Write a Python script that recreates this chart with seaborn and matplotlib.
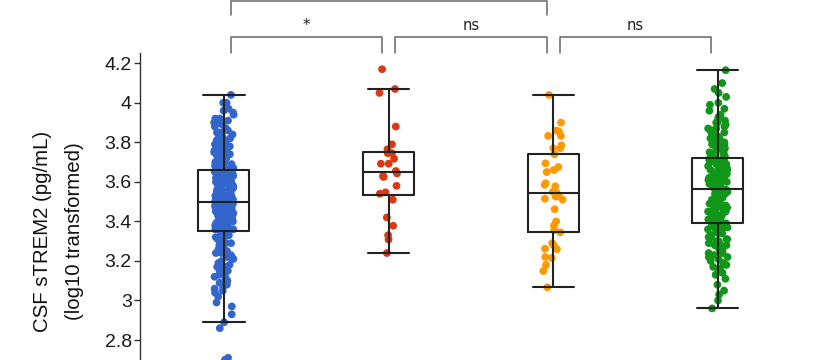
import pandas as pd
import numpy as np
import matplotlib
matplotlib.use('Agg')
import matplotlib.pyplot as plt
import matplotlib.ticker as mticker
import seaborn as sns

groups = ['G1', 'G2', 'G3', 'G4']
colors = ['#3366CC', '#DC3912', '#FF9900', '#109618']

g1_vals = [2.70, 2.71, 2.86, 2.89, 2.93, 2.97, 2.99,
           3.02, 3.04, 3.05, 3.06, 3.07, 3.08, 3.09, 3.10,
           3.11, 3.12, 3.12, 3.13, 3.14, 3.15, 3.15, 3.16, 3.17, 3.17, 3.18, 3.19, 3.19, 3.20,
           3.21, 3.21, 3.22, 3.22, 3.23, 3.24, 3.24, 3.25, 3.25, 3.26, 3.26, 3.27, 3.27, 3.28,
           3.28, 3.28, 3.29, 3.29, 3.30, 3.30,
           3.31, 3.31, 3.31, 3.32, 3.32, 3.32, 3.33, 3.33, 3.33, 3.34, 3.34, 3.34, 3.35, 3.35,
           3.35, 3.35,
           3.36, 3.36, 3.36, 3.36, 3.37, 3.37, 3.37, 3.37, 3.38, 3.38, 3.38, 3.38, 3.38,
           3.39, 3.39, 3.39, 3.39, 3.40, 3.40, 3.40, 3.40, 3.40, 3.41, 3.41, 3.41, 3.41,
           3.42, 3.42, 3.42, 3.42, 3.42, 3.43, 3.43, 3.43, 3.43, 3.44, 3.44, 3.44, 3.44, 3.44,
           3.45, 3.45, 3.45, 3.45, 3.46, 3.46, 3.46, 3.46, 3.46, 3.47, 3.47, 3.47, 3.47,
           3.48, 3.48, 3.48, 3.48, 3.48, 3.49, 3.49, 3.49, 3.49, 3.50, 3.50, 3.50,
           3.51, 3.51, 3.51, 3.51, 3.52, 3.52, 3.52, 3.52, 3.53, 3.53, 3.53, 3.53,
           3.54, 3.54, 3.54, 3.54, 3.55, 3.55, 3.55, 3.55, 3.56, 3.56, 3.56, 3.56,
           3.57, 3.57, 3.57, 3.57, 3.58, 3.58, 3.58, 3.58, 3.59, 3.59, 3.59, 3.59,
           3.60, 3.60, 3.60, 3.60, 3.60, 3.61, 3.61, 3.61, 3.61, 3.62, 3.62, 3.62, 3.62,
           3.63, 3.63, 3.63, 3.63, 3.64, 3.64, 3.64, 3.65, 3.65, 3.65, 3.66, 3.66, 3.66,
           3.67, 3.67, 3.67,
           3.68, 3.68, 3.68, 3.69, 3.69, 3.69, 3.70, 3.70, 3.70, 3.71, 3.71, 3.71,
           3.72, 3.72, 3.72, 3.73, 3.73, 3.73, 3.74, 3.74, 3.74, 3.75, 3.75, 3.75,
           3.76, 3.76, 3.77, 3.77, 3.78, 3.78, 3.78, 3.79, 3.79, 3.80, 3.80,
           3.81, 3.81, 3.82, 3.82, 3.83, 3.83, 3.84, 3.85, 3.85, 3.86, 3.87, 3.87, 3.88,
           3.89, 3.90, 3.90,
           3.91, 3.92, 3.92, 3.94, 3.95, 3.96, 3.97, 4.00, 4.00, 4.04]

g2_vals = [4.17, 4.07, 4.05, 3.88, 3.79, 3.765, 3.745, 3.745, 3.717, 3.692, 3.692,
           3.655, 3.643, 3.63, 3.625, 3.58, 3.547, 3.54, 3.51, 3.42, 3.378, 3.33,
           3.309, 3.24]

g3_vals = [4.04, 3.90, 3.86, 3.855, 3.833, 3.833, 3.785, 3.77, 3.77, 3.74, 3.694,
           3.675, 3.65, 3.66, 3.593, 3.585, 3.578, 3.55, 3.545, 3.53, 3.51, 3.515,
           3.525, 3.462, 3.40, 3.378, 3.356, 3.345, 3.29, 3.28, 3.26, 3.262, 3.215,
           3.22, 3.18, 3.149, 3.067]

g4_vals = [2.96, 3.00, 3.03, 3.05, 3.08,
           3.11, 3.13, 3.14, 3.15, 3.16, 3.17, 3.18, 3.19, 3.20,
           3.21, 3.22, 3.22, 3.23, 3.24, 3.24, 3.25, 3.26, 3.26, 3.27, 3.28, 3.28, 3.29,
           3.29, 3.30, 3.30,
           3.31, 3.31, 3.32, 3.32, 3.33, 3.33, 3.34, 3.34, 3.35, 3.35, 3.36, 3.36, 3.37,
           3.37, 3.38, 3.38, 3.39, 3.39,
           3.40, 3.40, 3.40, 3.41, 3.41, 3.41, 3.42, 3.42, 3.42, 3.43, 3.43, 3.43,
           3.44, 3.44, 3.44, 3.45, 3.45, 3.45, 3.46, 3.46, 3.46, 3.47, 3.47, 3.47,
           3.48, 3.48, 3.48, 3.49, 3.49, 3.49, 3.50, 3.50, 3.50, 3.51, 3.51, 3.51,
           3.52, 3.52, 3.52, 3.53, 3.53, 3.54, 3.54, 3.55, 3.55, 3.56, 3.56,
           3.57, 3.57, 3.57, 3.58, 3.58, 3.58, 3.59, 3.59, 3.59, 3.60, 3.60, 3.60,
           3.61, 3.61, 3.61, 3.62, 3.62, 3.62, 3.63, 3.63, 3.63, 3.64, 3.64, 3.64,
           3.65, 3.65, 3.65, 3.66, 3.66, 3.66, 3.67, 3.67, 3.67, 3.68, 3.68, 3.68,
           3.69, 3.69, 3.69, 3.70, 3.70, 3.70, 3.71, 3.71, 3.71, 3.71, 3.72,
           3.72, 3.73, 3.73, 3.74, 3.74, 3.75, 3.75, 3.76, 3.76, 3.77, 3.77, 3.78, 3.78,
           3.79, 3.79, 3.80, 3.80, 3.81, 3.81, 3.82, 3.82, 3.83, 3.83, 3.84, 3.84,
           3.85, 3.85, 3.86, 3.86, 3.87, 3.87, 3.88, 3.89, 3.90, 3.90, 3.91, 3.92, 3.93,
           3.94, 3.96, 3.97, 3.99, 4.00, 4.03, 4.05, 4.07, 4.10, 4.165]

# significance brackets: (from group, to group, label, level)
brackets = [(0, 1, '*', 0), (1, 2, 'ns', 0), (2, 3, 'ns', 0), (0, 2, '', 1)]

df = pd.DataFrame({
    'group': [groups[0]] * len(g1_vals) + [groups[1]] * len(g2_vals)
             + [groups[2]] * len(g3_vals) + [groups[3]] * len(g4_vals),
    'value': g1_vals + g2_vals + g3_vals + g4_vals,
})

sns.set_style('white')
plt.rcParams['font.family'] = ['Liberation Sans', 'DejaVu Sans']

fig = plt.figure(figsize=(8.36, 3.6), dpi=100)
ax = fig.add_axes([140 / 836, 0, 660 / 836, 307 / 360])

np.random.seed(3)
sns.stripplot(data=df, x='group', y='value', hue='group', order=groups,
              palette=colors, jitter=0.06, size=5.6, linewidth=0,
              legend=False, ax=ax, zorder=1)
sns.boxplot(data=df, x='group', y='value', order=groups, width=0.31,
            fill=False, color='#222222', linecolor='#222222', linewidth=1.5,
            showfliers=False, capwidths=0.25, ax=ax)

ax.set_xlim(-0.51, 3.5)
ax.set_ylim(2.699, 4.252)
ax.yaxis.set_major_locator(mticker.MultipleLocator(0.2))
ax.yaxis.set_major_formatter(mticker.FormatStrFormatter('%g'))
ax.tick_params(axis='y', left=True, length=4, width=1, color='#333333',
               labelsize=14, labelcolor='#1a1a1a', pad=2)
ax.set_xticks([])
ax.set_xlabel('')
for s in ['top', 'right', 'bottom']:
    ax.spines[s].set_visible(False)
ax.spines['left'].set_color('#333333')
ax.spines['left'].set_linewidth(1)

ax.set_ylabel('CSF sTREM2 (pg/mL)\n(log10 transformed)', fontsize=14.7,
              color='#111111', linespacing=1.85)
ax.yaxis.set_label_coords(-0.085, 0.42)

trans = ax.get_xaxis_transform()
levels = [(1.052, 1.0), (1.17, 1.124)]
for a, b, lab, lev in brackets:
    top, leg = levels[lev]
    x0, x1 = a + 0.04, b - 0.04
    ax.plot([x0, x0, x1, x1], [leg, top, top, leg], color='#666666', lw=1.1,
            transform=trans, clip_on=False)
    if lab:
        ax.text((a + b) / 2, top + 0.012, lab, transform=trans, ha='center',
                va='bottom', fontsize=10.5, family='DejaVu Sans', color='#222222')

fig.savefig('out.png', dpi=100)
